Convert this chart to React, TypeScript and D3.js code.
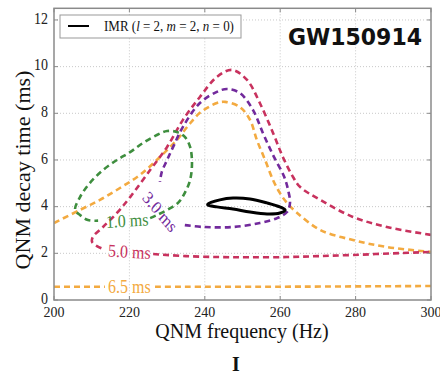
import React from 'react';
import * as d3 from 'd3';

type P = [number, number];

const xTicks = [200, 220, 240, 260, 280, 300];
const yTicks = [0, 2, 4, 6, 8, 10, 12];

// IMR (l=2, m=2, n=0) 90% contour (closed)
const imrContour: P[] = [
  [240.8, 4.11], [244.0, 4.29], [247.5, 4.37], [252.0, 4.33], [256.5, 4.16],
  [259.9, 3.99], [261.3, 3.86], [259.9, 3.73], [256.5, 3.69], [252.0, 3.77],
  [247.5, 3.90], [243.2, 3.99], [240.8, 4.07],
];

// 1.0 ms contour (gap where the label sits)
const contour10: P[] = [
  [225.5, 3.51], [227.3, 3.64], [230.0, 3.86], [232.9, 4.16], [234.7, 4.59],
  [236.1, 5.14], [236.6, 5.87], [236.1, 6.56], [234.7, 6.99], [232.6, 7.20],
  [230.0, 7.24], [227.3, 7.07], [223.6, 6.73], [220.2, 6.34], [216.7, 6.00],
  [213.0, 5.57], [209.5, 5.01], [206.9, 4.41], [205.6, 3.86], [206.9, 3.64],
  [209.0, 3.43], [211.7, 3.40],
];

// 3.0 ms contour
const contour30: P[] = [
  [234.7, 3.21], [239.5, 3.13], [247.5, 3.13], [254.6, 3.30], [259.2, 3.51],
  [261.8, 3.77], [262.6, 4.16], [262.1, 4.71], [261.0, 5.30], [258.1, 6.21],
  [255.4, 7.16], [252.8, 8.14], [249.3, 8.87], [245.9, 9.04], [243.2, 8.92],
  [238.7, 8.44], [234.2, 7.42], [231.6, 6.56], [230.0, 6.00], [228.6, 5.49],
  [228.1, 5.06],
];

// 5.0 ms contour: upper branch and lower branch
const contour50Upper: P[] = [
  [300, 2.79], [288.3, 3.13], [279.3, 3.56], [270.6, 4.29], [265.3, 4.84],
  [263.4, 5.27], [260.7, 6.13], [258.1, 7.16], [254.6, 8.44], [251.2, 9.43],
  [247.2, 9.86], [243.2, 9.56], [238.7, 8.70], [234.2, 7.72], [230.0, 6.56],
  [225.5, 5.57], [220.2, 4.41], [216.7, 3.73], [213.0, 3.13], [210.3, 2.70],
  [210.1, 2.49], [211.4, 2.31], [213.0, 2.19],
];
const contour50Lower: P[] = [
  [226.3, 1.97], [235, 1.88], [244, 1.84], [252, 1.83], [261.8, 1.84],
  [270, 1.88], [279.3, 1.93], [290, 2.0], [300, 2.06],
];

// 6.5 ms contour: upper branch and flat lower branch
const contour65Upper: P[] = [
  [200, 3.30], [206.9, 3.86], [212.2, 4.29], [217.5, 4.80], [222.8, 5.36],
  [228.1, 6.13], [232.6, 6.86], [235.5, 7.45], [238.7, 8.02], [243.2, 8.44],
  [245.4, 8.49], [249.3, 8.27], [252.0, 7.72], [253.8, 6.86], [256.0, 6.00],
  [258.1, 5.14], [259.9, 4.59], [261.8, 4.16], [264.5, 3.73], [270.6, 3.00],
  [279.3, 2.57], [288.3, 2.27], [300, 2.06],
];
const contour65LowerLeft: P[] = [[200, 0.57], [213.5, 0.57]];
const contour65LowerRight: P[] = [[226.8, 0.57], [260, 0.57], [300, 0.6]];

const labelTexts = ['1.0 ms', '3.0 ms', '5.0 ms', '6.5 ms'];
const labelFreqs = [219.4, 228.1, 220.0, 220.0];
const labelTaus = [3.39, 3.77, 2.06, 0.56];
const labelAngles = [-3, 47, 3, 0];

const GREEN = '#3e8e3e';
const PURPLE = '#722a9c';
const RED = '#c8325e';
const ORANGE = '#f3aa40';
const labelColors = [GREEN, PURPLE, RED, ORANGE];

const W = 440;
const H = 377;
const L = 54, R = 431, T = 8.3, B = 300;
const STRETCH = 1.12;

export default function App() {
  const x = d3.scaleLinear().domain([200, 300]).range([L, R]);
  const y = d3.scaleLinear().domain([0, 12.5]).range([B, T]);
  const line = d3.line<P>().x(d => x(d[0])).y(d => y(d[1])).curve(d3.curveCatmullRom.alpha(0.5));
  const closed = d3.line<P>().x(d => x(d[0])).y(d => y(d[1])).curve(d3.curveCatmullRomClosed.alpha(0.5));

  const dashed = (data: P[], color: string, key: string) => (
    <path key={key} d={line(data) || ''} fill="none" stroke={color} strokeWidth={2.6}
      strokeDasharray="6 4" strokeLinecap="butt" />
  );

  const serif = '"Liberation Serif", "DejaVu Serif", serif';

  return (
    <svg width={W} height={H} style={{ position: 'absolute', left: 0, top: 0, background: '#fff' }}>
      <defs>
        <clipPath id="plotclip">
          <rect x={L} y={T} width={R - L} height={B - T} />
        </clipPath>
      </defs>
      <rect x={0} y={0} width={W} height={H} fill="#fff" />
      {/* grid */}
      <g stroke="#c8c8c8" strokeWidth={1} strokeDasharray="1 2">
        {xTicks.slice(1, -1).map(t => (
          <line key={'gx' + t} x1={x(t)} x2={x(t)} y1={T} y2={B} />
        ))}
        {yTicks.slice(1).map(t => (
          <line key={'gy' + t} x1={L} x2={R} y1={y(t)} y2={y(t)} />
        ))}
      </g>
      {/* contours */}
      <g clipPath="url(#plotclip)">
        {dashed(contour65Upper, ORANGE, 'o1')}
        {dashed(contour65LowerLeft, ORANGE, 'o2')}
        {dashed(contour65LowerRight, ORANGE, 'o3')}
        {dashed(contour50Upper, RED, 'r1')}
        {dashed(contour50Lower, RED, 'r2')}
        {dashed(contour30, PURPLE, 'p1')}
        {dashed(contour10, GREEN, 'g1')}
        <path d={closed(imrContour) || ''} fill="none" stroke="#000" strokeWidth={3} />
      </g>
      {/* contour labels */}
      {labelTexts.map((t, i) => (
        <text key={'lab' + i}
          transform={`translate(${x(labelFreqs[i])},${y(labelTaus[i])}) scale(1,${STRETCH}) rotate(${labelAngles[i]})`}
          textAnchor="middle" dominantBaseline="central" fontFamily={serif} fontSize={16}
          fill={labelColors[i]}>{t}</text>
      ))}
      {/* frame */}
      <rect x={L} y={T} width={R - L} height={B - T} fill="none" stroke="#8a8a8a" strokeWidth={1.5} />
      {/* ticks */}
      <g stroke="#8a8a8a" strokeWidth={1}>
        {xTicks.map(t => (
          <g key={'tx' + t}>
            <line x1={x(t)} x2={x(t)} y1={B} y2={B - 4} />
            <line x1={x(t)} x2={x(t)} y1={T} y2={T + 4} />
          </g>
        ))}
        {yTicks.map(t => (
          <g key={'ty' + t}>
            <line x1={L} x2={L + 4} y1={y(t)} y2={y(t)} />
            <line x1={R} x2={R - 4} y1={y(t)} y2={y(t)} />
          </g>
        ))}
      </g>
      {/* tick labels */}
      {xTicks.map(t => (
        <text key={'xl' + t} x={x(t)} y={317} textAnchor="middle"
          fontFamily={serif} fontSize={14} fill="#222">{t}</text>
      ))}
      {yTicks.map(t => (
        <text key={'yl' + t} transform={`translate(48,${y(t) - 1.5}) scale(1,${STRETCH})`} textAnchor="end"
          dominantBaseline="central" fontFamily={serif} fontSize={14} fill="#222">{t}</text>
      ))}
      {/* axis labels */}
      <text x={242} y={338} textAnchor="middle" fontFamily={serif} fontSize={20} fill="#111">QNM frequency (Hz)</text>
      <text transform={`translate(30,170) scale(1,1.05) rotate(-90)`} textAnchor="middle" fontFamily={serif} fontSize={21} fill="#111">QNM decay time (ms)</text>
      {/* legend */}
      <rect x={60} y={15} width={181} height={23} fill="#fff" stroke="#999" strokeWidth={1} />
      <line x1={68} x2={89} y1={26} y2={26} stroke="#000" strokeWidth={2} />
      <text transform={`translate(104,31) scale(1,${STRETCH})`} fontFamily={serif} fontSize={13} fill="#111">
        IMR (<tspan fontStyle="italic">l</tspan> = 2, <tspan fontStyle="italic">m</tspan> = 2, <tspan fontStyle="italic">n</tspan> = 0)
      </text>
      {/* title */}
      <text transform="translate(422,45) scale(1,1.06)" textAnchor="end" fontFamily='"DejaVu Sans", sans-serif'
        fontWeight="bold" fontSize={22} fill="#111">GW150914</text>
      {/* cursor glyph */}
      <text x={236} y={371} textAnchor="middle" fontFamily={serif} fontWeight="bold" fontSize={20} fill="#111">I</text>
    </svg>
  );
}
